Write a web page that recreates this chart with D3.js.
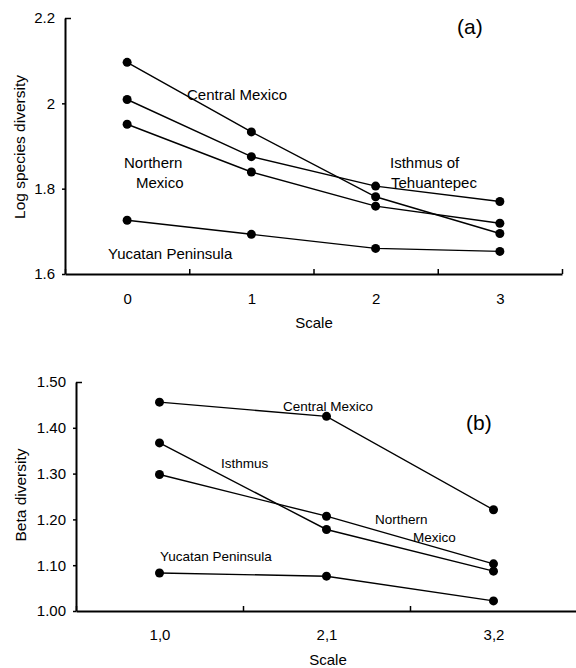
<!DOCTYPE html>
<html lang="en">
<head>
<meta charset="utf-8">
<title>Species and beta diversity by scale</title>
<script src="https://cdn.jsdelivr.net/npm/d3@7"></script>
<style>
  body { margin: 0; background: #fff; }
  svg { font-family: "Liberation Sans", Arial, sans-serif; }
  .axis path, .axis line { stroke: #000; }
  .axis path { stroke-width: 2; }
  .axis line { stroke-width: 1.5; }
  .axis text { fill: #000; }
</style>
</head>
<body>
<script>
// panel (a): log species diversity
var scalesA = [0, 1, 2, 3];
var centralA  = [2.096, 1.933, 1.781, 1.695];
var isthmusA  = [2.009, 1.875, 1.806, 1.770];
var northernA = [1.951, 1.839, 1.759, 1.719];
var yucatanA  = [1.726, 1.693, 1.660, 1.653];
var yTicksA = [1.6, 1.8, 2.0, 2.2];
var yLabelsA = ["1.6", "1.8", "2", "2.2"];

// panel (b): beta diversity
var scalesB = ["1,0", "2,1", "3,2"];
var centralB  = [1.456, 1.425, 1.221];
var isthmusB  = [1.367, 1.178, 1.087];
var northernB = [1.298, 1.207, 1.103];
var yucatanB  = [1.083, 1.076, 1.022];
var yTicksB = [1.0, 1.1, 1.2, 1.3, 1.4, 1.5];

var w = 576, h = 668;

var svg = d3.select("body").append("svg")
    .attr("width", w)
    .attr("height", h);

function drawSeries(g, x, y, values) {
  var pts = values.map(function(v, i) { return [i, v]; });
  var line = d3.line()
      .x(function(d) { return x(d[0]); })
      .y(function(d) { return y(d[1]); });
  g.append("path")
      .datum(pts)
      .attr("d", line)
      .attr("fill", "none")
      .attr("stroke", "#000")
      .attr("stroke-width", 1.4);
  g.selectAll(null)
      .data(pts)
      .enter()
      .append("circle")
      .attr("cx", function(d) { return x(d[0]); })
      .attr("cy", function(d) { return y(d[1]); })
      .attr("r", 4.5)
      .attr("fill", "#000");
}

function label(g, txt, x, y, size) {
  g.append("text")
      .attr("x", x)
      .attr("y", y)
      .attr("font-size", size + "px")
      .attr("fill", "#000")
      .text(txt);
}

// y axis: small outward ticks, top one turned inward like a cap
function yAxis(g, scale, ticks, fmt, top) {
  var a = g.append("g")
      .attr("class", "axis")
      .call(d3.axisLeft(scale).tickValues(ticks).tickSizeInner(3).tickSizeOuter(0)
            .tickPadding(7).tickFormat(fmt));
  a.selectAll(".tick line")
      .filter(function(d) { return d === top; })
      .attr("x1", 0).attr("x2", 6);
  a.selectAll("text").attr("font-size", "15px");
  a.attr("font-family", null);
  return a;
}

//----- panel (a)
var xA = d3.scaleLinear().domain([-0.5, 3.5]).range([65, 562]);
var yA = d3.scaleLinear().domain([1.6, 2.2]).range([274, 18]);
var gA = svg.append("g");

gA.append("g")
    .attr("class", "axis")
    .attr("transform", "translate(0," + yA(1.6) + ")")
    .call(d3.axisBottom(xA).tickValues([-0.5, 0.5, 1.5, 2.5, 3.5])
          .tickSizeInner(-5).tickSizeOuter(0).tickFormat(""));
gA.append("g")
    .attr("class", "axis")
    .attr("transform", "translate(0," + yA(1.6) + ")")
    .attr("font-family", null)
    .call(d3.axisBottom(xA).tickValues(scalesA).tickSize(0).tickPadding(19)
          .tickFormat(d3.format("d")))
    .call(function(s) { s.select(".domain").remove(); })
    .selectAll("text").attr("font-size", "15px");
yAxis(gA, yA, yTicksA, function(d, i) { return yLabelsA[i]; }, 2.2)
    .attr("transform", "translate(" + xA(-0.5) + ",0)");

[centralA, isthmusA, northernA, yucatanA].forEach(function(s) {
  drawSeries(gA, xA, yA, s);
});

gA.append("text")
    .attr("x", 314).attr("y", 328)
    .attr("text-anchor", "middle")
    .attr("font-size", "15px")
    .text("Scale");
gA.append("text")
    .attr("transform", "translate(25,147) rotate(-90)")
    .attr("text-anchor", "middle")
    .attr("font-size", "15.5px")
    .text("Log species diversity");

label(gA, "Central Mexico", 187, 100, 15);
label(gA, "Northern", 124, 168, 15);
label(gA, "Mexico", 136, 188, 15);
label(gA, "Yucatan Peninsula", 108, 259, 15);
label(gA, "Isthmus of", 390, 168, 15);
label(gA, "Tehuantepec", 391, 188, 15);
label(gA, "(a)", 457, 34, 21);

//----- panel (b)
var xB = d3.scaleLinear().domain([-0.5, 2.5]).range([76, 577]);
var yB = d3.scaleLinear().domain([1.0, 1.5]).range([611, 382]);
var gB = svg.append("g");

gB.append("g")
    .attr("class", "axis")
    .attr("transform", "translate(0," + yB(1.0) + ")")
    .call(d3.axisBottom(xB).tickValues([-0.5, 0.5, 1.5, 2.5])
          .tickSizeInner(-5).tickSizeOuter(0).tickFormat(""));
gB.append("g")
    .attr("class", "axis")
    .attr("transform", "translate(0," + yB(1.0) + ")")
    .attr("font-family", null)
    .call(d3.axisBottom(xB).tickValues([0, 1, 2]).tickSize(0).tickPadding(18)
          .tickFormat(function(d) { return scalesB[d]; }))
    .call(function(s) { s.select(".domain").remove(); })
    .selectAll("text").attr("font-size", "15px");
yAxis(gB, yB, yTicksB, d3.format(".2f"), 1.5)
    .attr("transform", "translate(" + xB(-0.5) + ",0)");

[centralB, isthmusB, northernB, yucatanB].forEach(function(s) {
  drawSeries(gB, xB, yB, s);
});

gB.append("text")
    .attr("x", 328).attr("y", 665)
    .attr("text-anchor", "middle")
    .attr("font-size", "15px")
    .text("Scale");
gB.append("text")
    .attr("transform", "translate(26,495) rotate(-90)")
    .attr("text-anchor", "middle")
    .attr("font-size", "15.5px")
    .text("Beta diversity");

label(gB, "Central Mexico", 283, 411, 13.5);
label(gB, "Isthmus", 221, 468, 13.5);
label(gB, "Northern", 375, 524, 13.5);
label(gB, "Mexico", 413, 542, 13.5);
label(gB, "Yucatan Peninsula", 160, 561, 13.5);
label(gB, "(b)", 466, 430, 21);
</script>
</body>
</html>
